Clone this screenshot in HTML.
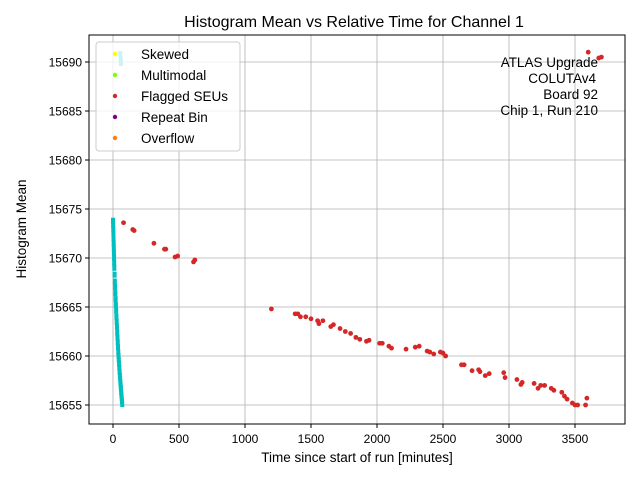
<!DOCTYPE html>
<html><head><meta charset="utf-8"><style>
body{margin:0;background:#fff;}
svg{font-family:"Liberation Sans","DejaVu Sans",sans-serif;}
</style></head><body>
<svg id="chart" width="640" height="480" viewBox="0 0 640 480">
<rect width="640" height="480" fill="#fff"/>
<g id="grid"></g>
<g id="marks"></g>
<rect x="89" y="35" width="536" height="389" fill="none" stroke="#000" stroke-width="1"/>
<g id="ticks"></g>
<text x="354" y="27" text-anchor="middle" font-size="16">Histogram Mean vs Relative Time for Channel 1</text>
<text x="357" y="462" text-anchor="middle" font-size="13.5">Time since start of run [minutes]</text>
<text transform="translate(26,229) rotate(-90)" text-anchor="middle" font-size="13.5">Histogram Mean</text>
<g font-size="13.5" text-anchor="end">
<text x="598" y="67">ATLAS Upgrade</text>
<text x="596" y="83">COLUTAv4</text>
<text x="598" y="99">Board 92</text>
<text x="598" y="115">Chip 1, Run 210</text>
</g>
<g id="legend">
<rect x="96" y="42" width="144" height="109" rx="3" fill="#fff" fill-opacity="0.8" stroke="#ccc"/>
</g>
</svg>
<script>
const xTicks=[0,500,1000,1500,2000,2500,3000,3500];
const yTicks=[15655,15660,15665,15670,15675,15680,15685,15690];
const legendLabels=["Skewed","Multimodal","Flagged SEUs","Repeat Bin","Overflow"];
const legendColors=["#ffff00","#7fff00","#d62728","#800080","#ff7f0e"];
const redX=[80,150,160,310,390,400,470,490,610,620,1200,1380,1400,1420,1460,1500,1550,1560,1590,1650,1670,1720,1760,1800,1840,1870,1920,1940,2020,2040,2090,2110,2220,2290,2320,2380,2400,2430,2480,2500,2520,2640,2660,2720,2770,2780,2820,2850,2960,2970,3060,3090,3100,3190,3220,3240,3270,3320,3340,3400,3420,3440,3480,3500,3520,3580,3590,3600,3680,3700];
const redY=[15673.6,15672.9,15672.8,15671.5,15670.9,15670.9,15670.1,15670.2,15669.6,15669.8,15664.8,15664.3,15664.3,15664,15664,15663.8,15663.6,15663.3,15663.6,15663,15663.2,15662.8,15662.5,15662.3,15661.9,15661.7,15661.5,15661.6,15661.3,15661.3,15661,15660.8,15660.7,15660.9,15661,15660.5,15660.4,15660.2,15660.4,15660.3,15660,15659.1,15659.1,15658.5,15658.6,15658.4,15658,15658.2,15658.3,15657.8,15657.6,15657.1,15657.3,15657.2,15656.7,15657,15657,15656.7,15656.5,15656.3,15655.9,15655.6,15655.2,15655,15655,15655,15655.7,15691,15690.4,15690.5];
const cyanX=[0,1,2,3,4,5,6,7,8,9,10,12,14,16,18,20,22,24,26,28,30,32,34,36,38,40,42,44,46,48,50,52,54,56,58,60,62,64,66,68,70,55,58,60];
const cyanY=[15673.8,15673.4,15673,15672.5,15672,15671.5,15671,15670.5,15670,15669.5,15669,15668.3,15667.6,15667,15666.4,15665.8,15665.2,15664.6,15664,15663.5,15663,15662.4,15661.9,15661.4,15660.9,15660.4,15660,15659.6,15659.2,15658.8,15658.4,15658,15657.7,15657.3,15657,15656.7,15656.3,15656,15655.7,15655.4,15655.1,15690.8,15690.3,15689.9];
const X=v=>113+(v-0)*(462/3500);
const Y=v=>405-(v-15655)*(343/35);
const NS="http://www.w3.org/2000/svg";
function mk(tag,attrs,parent){const e=document.createElementNS(NS,tag);for(const k in attrs)e.setAttribute(k,attrs[k]);parent.appendChild(e);return e;}
const grid=document.getElementById('grid'),ticks=document.getElementById('ticks'),marks=document.getElementById('marks'),legend=document.getElementById('legend');
xTicks.forEach(t=>{
 const gl=mk('line',{x1:X(t),x2:X(t),y1:35,y2:424,stroke:'#b0b0b0','stroke-width':0.8},grid);
 
 
 const tk=mk('line',{x1:X(t),x2:X(t),y1:424,y2:428,stroke:'#000'},ticks);
 
 
 const tx=mk('text',{x:X(t),y:443,'text-anchor':'middle','font-size':12},ticks);
 tx.textContent=t;
 
 
});
yTicks.forEach(t=>{
 const gl=mk('line',{x1:89,x2:625,y1:Y(t),y2:Y(t),stroke:'#b0b0b0','stroke-width':0.8},grid);
 
 
 const tk=mk('line',{x1:85,x2:89,y1:Y(t),y2:Y(t),stroke:'#000'},ticks);
 
 
 const tx=mk('text',{x:82,y:Y(t)+4.5,'text-anchor':'end','font-size':12},ticks);
 tx.textContent=t;
 
 
});
cyanX.forEach((v,i)=>{
 const c=mk('rect',{x:X(v)-2,y:Y(cyanY[i])-3,width:4,height:6,fill:'#00bfbf'},marks);
 
 
});
redX.forEach((v,i)=>{
 const c=mk('circle',{cx:X(v),cy:Y(redY[i]),r:2.4,fill:'#d62728'},marks);
 
 
});
legendLabels.forEach((l,i)=>{
 const y=54+i*21;
 const c=mk('circle',{cx:115,cy:y,r:2.2,fill:legendColors[i]},legend);
 
 
 const t=mk('text',{x:141,y:y+5,'font-size':13.5},legend);
 t.textContent=l;
 
 
});
</script>
</body></html>
